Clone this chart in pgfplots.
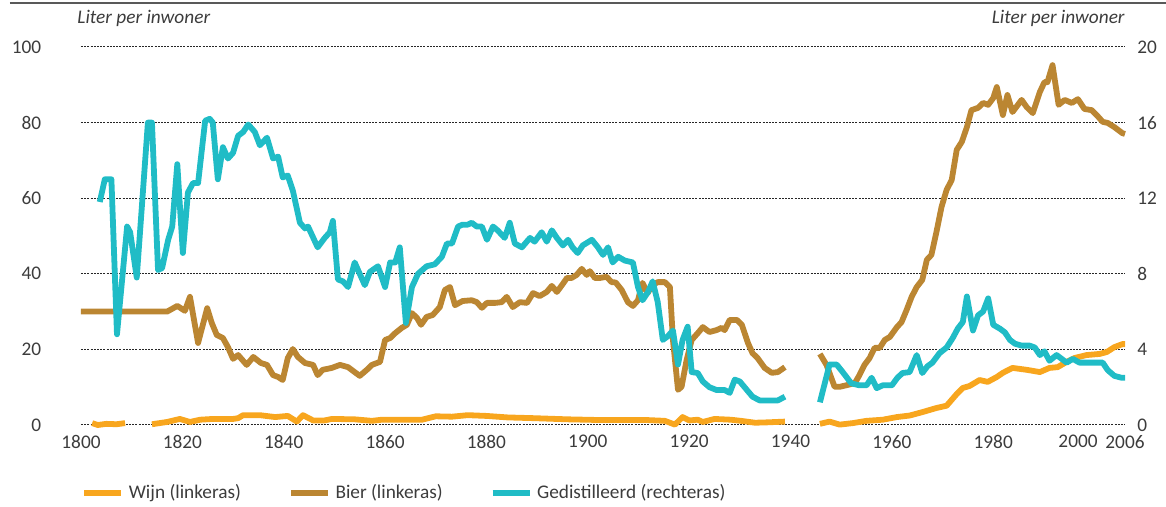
\documentclass[border=0pt]{standalone}
\usepackage{fontspec}
\setmainfont{Carlito}
\usepackage{pgfplots}
\pgfplotsset{compat=1.18}
\definecolor{wijn}{HTML}{F8A61E}
\definecolor{bier}{HTML}{BB8632}
\definecolor{gedist}{HTML}{20BCC6}
\definecolor{txt}{HTML}{3C3C3C}
\begin{document}
\fontsize{9.65pt}{11pt}\selectfont
\begin{tikzpicture}
\pgfplotsset{
  common/.style={
    scale only axis, width=522pt, height=189pt,
    xmin=1800, xmax=2006, ymin=0,
    axis line style={draw=none}, major tick length=0pt, tick style={draw=none},
    ticklabel style={font=\fontsize{9.65pt}{11pt}\selectfont, text=txt},
    /pgf/number format/assume math mode=true,
    /pgf/number format/1000 sep={},
    unbounded coords=jump,
    clip=false,
  }
}
\begin{axis}[common, name=ax,
  ymax=100, ytick={0,20,...,100},
  xtick={1800,1820,...,1980},
  extra x ticks={2000,2006},
  extra x tick labels={\hbox to 0pt{\hss 2000\hskip -1.5pt},2006},
  axis x line*=bottom, axis y line*=left,
  ymajorgrids,
  grid style={black!85, line width=0.5pt, dash pattern=on 1pt off 0.6pt},
  yticklabel style={anchor=east, xshift=-16.5pt},
  xticklabel style={anchor=north, yshift=-1.8pt},
  legend columns=3,
  legend cell align=left,
  legend style={draw=none, fill=none, inner sep=0pt, outer sep=0pt,
    at={(0,-0.1799)}, anchor=west,
    font=\fontsize{9.65pt}{11pt}\selectfont, text=txt,
    /tikz/every even column/.append style={column sep=21.3pt}},
  legend image code/.code={\draw[#1, line width=3.4pt] (0pt,0pt) -- (18.5pt,0pt);},
]
\node[anchor=base west, inner sep=0pt, font=\fontsize{9.65pt}{11pt}\selectfont\itshape, text=txt, xshift=-2pt, yshift=11.5pt] at (rel axis cs:0,1) {Liter per inwoner};
\node[anchor=base east, inner sep=0pt, font=\fontsize{9.65pt}{11pt}\selectfont\itshape, text=txt, yshift=11.5pt] at (rel axis cs:1,1) {Liter per inwoner};

% Wijn (linkeras)
\addplot[wijn, line width=2.9pt, line join=round, line cap=butt] coordinates {
(1802.2,0.5) (1803.3,0.0) (1805,0.3) (1807,0.2) (1808.7,0.5)
(1811,nan)
(1814,0.2) (1817,0.8) (1819.5,1.6) (1821.5,0.8) (1823.5,1.4) (1826,1.6) (1830,1.6)
(1831,1.8) (1832,2.6) (1835.3,2.6) (1838.3,2.1) (1840.8,2.4) (1842.6,0.9) (1843.8,2.6)
(1845.8,1.2) (1848,1.2) (1849.5,1.6) (1854,1.5) (1857.4,1.1) (1859.4,1.4) (1864,1.4)
(1867.3,1.4) (1870,2.3) (1873.2,2.2) (1876.3,2.6) (1880,2.4) (1884.2,2.0) (1889.5,1.8)
(1896,1.5) (1902.8,1.3) (1906,1.3) (1911.8,1.3) (1915.2,1.1) (1917.2,0.1) (1918.7,2.1)
(1920,1.2) (1921.7,1.4) (1922.7,0.8) (1925,1.6) (1928.2,1.4) (1930.2,1.1) (1933,0.6)
(1935.5,0.7) (1938.9,0.9)
(1942,nan)
(1945.8,0.3) (1947.7,0.9) (1949.7,0.1) (1952.3,0.5) (1955,1.1) (1958.2,1.4) (1961,2.1)
(1963.5,2.5) (1966,3.4) (1968.8,4.5) (1970.8,5.1) (1972.8,8.2) (1974,9.8) (1975.3,10.3)
(1977.3,11.9) (1978.9,11.4) (1980.7,12.7) (1981.9,13.8) (1983.8,15.1) (1986.6,14.6)
(1989.2,14.0) (1991.1,15.1) (1992.7,15.3) (1994.5,16.7) (1996,17.7) (1998.4,18.5)
(2001,18.8) (2002.4,19.3) (2003.9,20.6) (2005.5,21.4) (2006,21.4)
};
\addlegendentry{Wijn (linkeras)}

% Bier (linkeras)
\addplot[bier, line width=2.9pt, line join=round, line cap=butt] coordinates {
(1800,30) (1817,30) (1819,31.5) (1820.5,30.2) (1821.5,33.9) (1823.1,21.7) (1824.9,30.9)
(1825.8,27) (1826.8,23.8) (1828,23) (1829,20.6) (1830,17.5) (1831,18.5) (1832.7,15.9)
(1834,18) (1835.5,16.4) (1836.7,15.9) (1837.9,13.2) (1838.9,12.7) (1839.8,11.9)
(1840.8,17.7) (1841.8,20.1) (1842.8,18) (1844.2,16.4) (1845.8,15.9) (1846.7,13.2)
(1847.7,14.6) (1849.5,15.1) (1851.1,15.9) (1852.7,15.3) (1854,14) (1855,13) (1856.4,14.6)
(1857.4,15.9) (1859,16.7) (1860,22.5) (1861,23) (1862,24.3) (1863.3,25.7) (1864.3,26.5)
(1865.3,29.6) (1866.3,28.3) (1867.1,26.5) (1868.2,28.6) (1869.4,29.1) (1870.8,31.2)
(1871.8,35.7) (1872.8,36.5) (1873.8,31.7) (1875.3,32.8) (1877.1,33) (1878.1,32.5)
(1879.1,31) (1880.1,32.3) (1881.7,32.3) (1883,32.5) (1884,33.9) (1885.2,31.2) (1886.6,32.5)
(1888,32.3) (1889.2,34.9) (1890.5,34.1) (1891.9,35.2) (1892.9,36.8) (1893.9,35.2)
(1894.9,37) (1895.9,38.9) (1896.8,38.9) (1897.8,39.7) (1898.8,41.3) (1899.8,39.7)
(1900.4,40.7) (1901.4,38.9) (1902.4,38.9) (1903.7,39.2) (1904.7,37.8) (1905.5,37.7)
(1906.7,35.7) (1907.9,32.5) (1908.9,31.5) (1909.9,33) (1910.8,37.6) (1911.8,34.9)
(1912.8,37) (1913.8,37.8) (1915.2,37.8) (1916.2,36.5) (1916.8,22.5) (1917.8,9.3)
(1918.5,10.1) (1919.5,17.2) (1920.5,22.5) (1921.7,24.3) (1922.7,25.9) (1924,24.6)
(1925.4,25.1) (1926.4,25.7) (1927,25.1) (1928,27.8) (1929.4,27.8) (1930.4,26.5)
(1931.6,21.7) (1932.5,19) (1933.5,17.7) (1934.9,15.1) (1936.3,13.8) (1937.5,14) (1938.9,15.3)
(1942,nan)
(1945.8,18.8) (1947.1,15.9) (1948.7,10.1) (1949.7,10.1) (1951.3,10.6) (1952.7,11.1)
(1953.6,13.2) (1954.6,15.9) (1955.6,17.7) (1956.6,20.4) (1957.6,20.4) (1958.6,22.5)
(1959.6,23.3) (1961,25.9) (1961.9,27.2) (1962.9,30.4) (1963.9,33.9) (1964.9,36.5)
(1966,38.4) (1966.9,43.7) (1967.8,45) (1968.8,51.1) (1969.8,57.7) (1970.8,62.2)
(1971.8,64.8) (1972.8,72.8) (1973.8,74.9) (1974.8,78.8) (1975.7,83.3) (1977,83.9)
(1978,85.2) (1979,84.7) (1980,86.5) (1980.7,89.4) (1981.9,82) (1982.8,87.3) (1983.8,82.8)
(1985.6,86) (1986.6,84.1) (1987.8,82.5) (1989.2,88.1) (1990.1,90.7) (1990.7,90.7)
(1991.7,95.2) (1992.9,84.7) (1994.1,86) (1995.5,85.2) (1996.7,86.2) (1998,83.6)
(1999.4,83.3) (2000.4,82) (2001.6,80.2) (2002.6,79.9) (2003.9,78.8) (2005.5,77.2) (2006,77)
};
\addlegendentry{Bier (linkeras)}
\addlegendimage{gedist, line width=2.9pt}
\addlegendentry{Gedistilleerd (rechteras)}
\end{axis}

\begin{axis}[common,
  ymax=20, ytick={0,4,...,20},
  axis x line=none, axis y line*=right,
  yticklabel style={anchor=west, xshift=2.8pt},
]
% Gedistilleerd (rechteras)
\addplot[gedist, line width=2.9pt, line join=round, line cap=butt] coordinates {
(1803.7,11.8) (1804.7,13.0) (1806.0,13.0) (1807.1,4.8) (1809.1,10.5) (1809.7,10.2)
(1811.0,7.8) (1813.2,16.0) (1814.0,16.0) (1815.2,8.2) (1816.0,8.3) (1817.2,9.8)
(1818.0,10.5) (1819.0,13.8) (1820.1,9.1) (1821.1,12.3) (1822.1,12.8) (1823.1,12.8)
(1824.5,16.1) (1825.4,16.2) (1826.0,16.0) (1827.0,13.0) (1828.0,14.7) (1829.0,14.1)
(1830.0,14.4) (1831.0,15.3) (1832.0,15.5) (1833.0,15.9) (1834.3,15.5) (1835.3,14.8)
(1836.7,15.2) (1837.9,14.1) (1838.9,14.2) (1839.8,13.1) (1840.8,13.2) (1841.8,12.4)
(1843.2,10.7) (1844.2,10.4) (1844.8,10.5) (1846.7,9.4) (1848.1,9.9) (1849.1,10.2)
(1849.7,10.8) (1850.7,7.7) (1851.7,7.6) (1852.7,7.3) (1854.0,8.6) (1855.0,8.0)
(1856.0,7.4) (1857.0,8.1) (1858.6,8.4) (1860.0,7.3) (1861.0,8.6) (1862.0,8.6)
(1862.9,9.4) (1864.1,5.4) (1865.3,7.3) (1866.5,8.0) (1868.2,8.4) (1869.8,8.5)
(1871.2,8.9) (1872.2,9.6) (1873.2,9.6) (1874.4,10.5) (1875.3,10.6) (1876.3,10.6)
(1877.1,10.7) (1878.1,10.5) (1879.1,10.5) (1880.1,9.8) (1881.3,10.5) (1882.2,10.3)
(1883.6,9.9) (1884.6,10.7) (1885.6,9.6) (1887.0,9.4) (1888.6,9.9) (1889.5,9.7)
(1890.9,10.2) (1891.9,9.7) (1892.9,10.3) (1893.9,9.9) (1895.1,9.5) (1896.1,9.8)
(1897.0,9.4) (1898.0,9.1) (1899.0,9.5) (1900.8,9.8) (1902.0,9.4) (1903.0,9.0)
(1904.0,9.4) (1904.9,8.6) (1906.0,8.9) (1907.3,8.7) (1908.9,8.6) (1909.9,7.3)
(1910.8,6.6) (1911.8,7.0) (1912.8,7.6) (1913.8,6.5) (1914.8,4.5) (1915.8,4.7)
(1916.8,5.0) (1917.8,3.2) (1918.7,4.5) (1919.7,5.2) (1920.5,2.8) (1921.7,2.75)
(1922.7,2.3) (1924.0,2.0) (1925.4,1.85) (1927.0,1.85) (1928.0,1.7) (1929.0,2.4)
(1930.0,2.3) (1931.4,1.85) (1932.5,1.5) (1933.9,1.3) (1935.5,1.3) (1937.5,1.3) (1938.9,1.5)
(1942,nan)
(1945.8,1.2) (1947.7,3.2) (1949.1,3.2) (1950.3,2.8) (1952.0,2.2) (1953.6,2.1)
(1955.0,2.1) (1956.0,2.5) (1957.0,1.95) (1958.2,2.1) (1960.0,2.1) (1961.1,2.5)
(1962.1,2.75) (1963.5,2.8) (1964.9,3.7) (1966.0,2.75) (1967.0,3.1) (1968.0,3.3)
(1969.4,3.8) (1970.8,4.1) (1972.0,4.6) (1973.0,5.1) (1974.0,5.45) (1974.8,6.8)
(1976.0,5.0) (1977.0,5.8) (1978.0,6.0) (1979.0,6.7) (1980.0,5.3) (1981.3,5.1)
(1982.3,4.9) (1983.3,4.5) (1984.3,4.3) (1985.6,4.2) (1987.2,4.2) (1988.2,4.1)
(1989.2,3.7) (1990.1,3.9) (1991.1,3.4) (1992.5,3.7) (1993.5,3.5) (1994.5,3.3)
(1995.7,3.5) (1997.0,3.3) (1998.4,3.3) (2000.0,3.3) (2001.6,3.3) (2002.6,2.9)
(2003.9,2.6) (2005.3,2.5) (2006,2.5)
};
\end{axis}

\draw[txt!85, line width=0.75pt] ([shift={(-35.5pt,22pt)}]ax.north west) -- ([shift={(20.5pt,22pt)}]ax.north east);
\pgfresetboundingbox
\path ([shift={(-40.5pt,-41pt)}]ax.south west) rectangle ([shift={(20.5pt,23.5pt)}]ax.north east);
\end{tikzpicture}
\end{document}
